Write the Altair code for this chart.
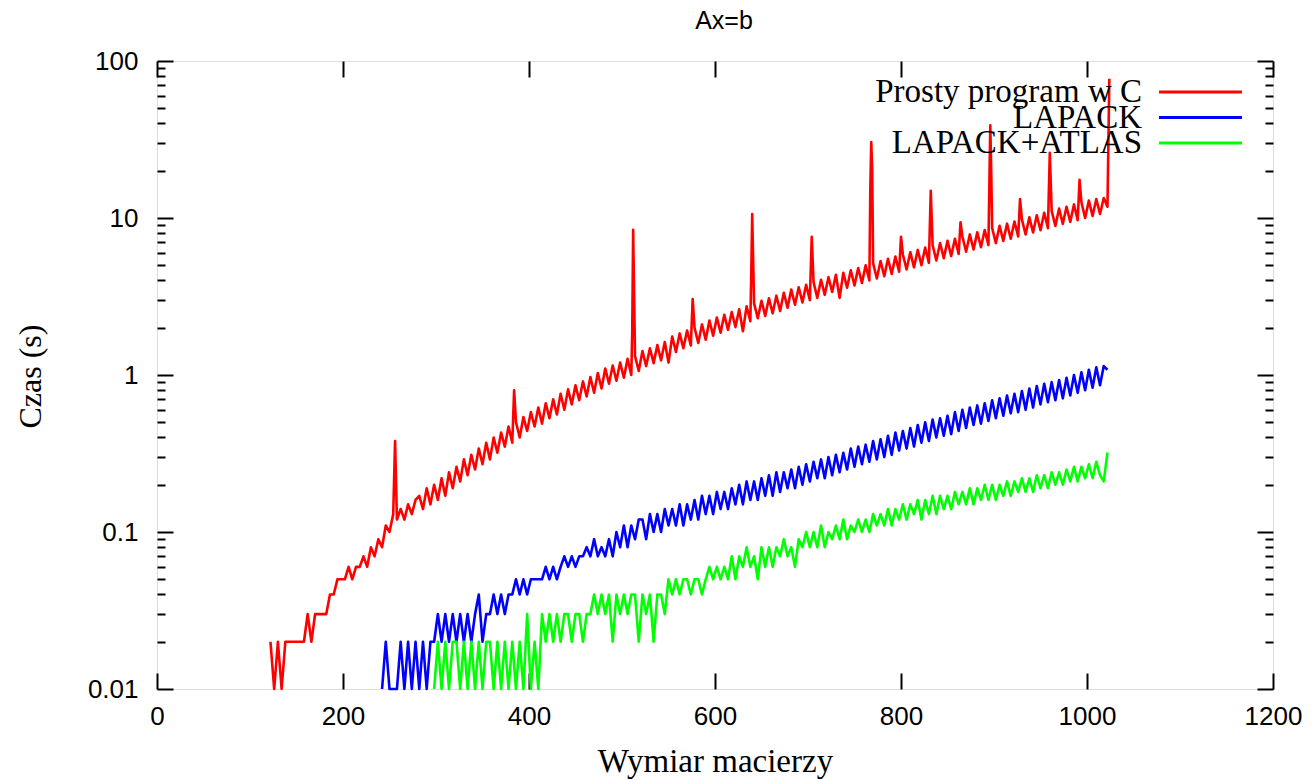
import altair as alt
import pandas as pd

SERIES = ["Prosty program w C", "LAPACK", "LAPACK+ATLAS"]
COLORS = ["#ff0000", "#0000ff", "#00ff00"]
TITLE = "Ax=b"
STEP = 4

RED_START = 122
RED = [
    0.02, 0.01, 0.02, 0.01, 0.02, 0.02, 0.02, 0.02, 0.02, 0.02,
    0.03, 0.02, 0.03, 0.03, 0.03, 0.03, 0.04, 0.04, 0.05, 0.05,
    0.05, 0.06, 0.05, 0.06, 0.06, 0.07, 0.06, 0.08, 0.07, 0.09,
    0.08, 0.11, 0.10, 0.13, 0.12, 0.14, 0.12, 0.15, 0.13, 0.16,
    0.17, 0.14, 0.19, 0.15, 0.20, 0.16, 0.22, 0.17, 0.24, 0.19,
    0.26, 0.21, 0.29, 0.23, 0.31, 0.25, 0.34, 0.27, 0.37, 0.29,
    0.40, 0.32, 0.43, 0.35, 0.47, 0.37, 0.50, 0.40, 0.54, 0.44,
    0.58, 0.47, 0.62, 0.49, 0.66, 0.53, 0.70, 0.56, 0.76, 0.60,
    0.81, 0.65, 0.86, 0.69, 0.91, 0.73, 0.97, 0.77, 1.03, 0.82,
    1.10, 0.88, 1.15, 0.92, 1.20, 0.96, 1.27, 1.00, 1.32, 1.06,
    1.42, 1.14, 1.48, 1.19, 1.55, 1.24, 1.62, 1.20, 1.76, 1.40,
    1.84, 1.48, 1.92, 1.54, 2.00, 1.60, 2.10, 1.68, 2.22, 1.78,
    2.32, 1.86, 2.42, 1.94, 2.52, 2.02, 2.62, 1.90, 2.74, 2.20,
    2.86, 2.30, 2.97, 2.38, 3.08, 2.47, 3.20, 2.56, 3.34, 2.68,
    3.50, 2.80, 3.62, 2.90, 3.75, 3.00, 3.90, 3.10, 4.04, 3.24,
    4.20, 3.38, 4.35, 3.10, 4.48, 3.60, 4.64, 3.72, 4.80, 3.86,
    5.00, 4.00, 5.16, 4.12, 5.32, 4.26, 5.50, 4.40, 5.68, 4.55,
    5.86, 4.70, 6.06, 4.85, 6.26, 5.00, 6.48, 5.18, 6.70, 5.36,
    6.92, 5.55, 7.15, 5.72, 7.38, 5.90, 7.62, 6.10, 7.86, 6.30,
    8.12, 6.52, 8.38, 6.72, 8.64, 6.92, 8.92, 7.15, 9.20, 7.38,
    9.50, 7.62, 9.80, 7.85, 10.1, 8.10, 10.4, 8.35, 10.8, 8.62,
    11.1, 8.90, 11.5, 9.18, 11.8, 9.45, 12.2, 9.70, 12.6, 10.0,
    12.9, 10.3, 13.2, 10.6, 13.4, 11.8,
]
RED_SPIKE_X = [256, 384, 511, 512, 576, 639, 640, 704, 767, 768, 769,
               800, 832, 864, 896, 897, 928, 960, 992, 1024]
RED_SPIKE_Y = [0.38, 0.80, 1.9, 8.4, 3.05, 4.5, 10.6, 7.6, 15.3, 30.5, 20.5,
               7.6, 14.9, 9.4, 39.0, 20.0, 13.2, 26.0, 17.5, 77.0]

BLUE_START = 242
BLUE = [
    0.01, 0.02, 0.01, 0.01, 0.01, 0.02, 0.01, 0.02, 0.01, 0.02,
    0.01, 0.02, 0.01, 0.02, 0.02, 0.03, 0.02, 0.03, 0.02, 0.03,
    0.02, 0.03, 0.02, 0.03, 0.02, 0.03, 0.04, 0.02, 0.03, 0.03,
    0.04, 0.03, 0.04, 0.03, 0.04, 0.04, 0.05, 0.04, 0.05, 0.04,
    0.05, 0.05, 0.05, 0.05, 0.06, 0.05, 0.06, 0.05, 0.06, 0.07,
    0.06, 0.07, 0.06, 0.07, 0.07, 0.08, 0.07, 0.09, 0.07, 0.08,
    0.07, 0.09, 0.07, 0.10, 0.08, 0.11, 0.08, 0.11, 0.09, 0.12,
    0.12, 0.09, 0.13, 0.10, 0.13, 0.10, 0.14, 0.11, 0.14, 0.11,
    0.15, 0.11, 0.15, 0.12, 0.16, 0.12, 0.17, 0.13, 0.17, 0.13,
    0.18, 0.14, 0.18, 0.14, 0.19, 0.15, 0.20, 0.15, 0.21, 0.16,
    0.21, 0.16, 0.22, 0.17, 0.23, 0.17, 0.24, 0.18, 0.24, 0.19,
    0.25, 0.19, 0.26, 0.20, 0.27, 0.21, 0.28, 0.22, 0.29, 0.22,
    0.30, 0.23, 0.31, 0.24, 0.32, 0.25, 0.34, 0.26, 0.35, 0.27,
    0.36, 0.28, 0.38, 0.29, 0.39, 0.30, 0.41, 0.31, 0.43, 0.33,
    0.44, 0.34, 0.46, 0.35, 0.48, 0.37, 0.50, 0.38, 0.52, 0.40,
    0.53, 0.41, 0.55, 0.42, 0.58, 0.44, 0.60, 0.46, 0.62, 0.48,
    0.64, 0.49, 0.66, 0.51, 0.69, 0.53, 0.71, 0.55, 0.74, 0.57,
    0.76, 0.58, 0.79, 0.60, 0.82, 0.62, 0.85, 0.65, 0.88, 0.67,
    0.90, 0.69, 0.93, 0.71, 0.96, 0.74, 1.00, 0.77, 1.04, 0.80,
    1.08, 0.83, 1.12, 0.86, 1.14, 1.08,
]

GREEN_START = 298
GREEN = [
    0.01, 0.02, 0.01, 0.02, 0.01, 0.02, 0.02, 0.01, 0.02, 0.01,
    0.02, 0.01, 0.02, 0.01, 0.02, 0.02, 0.01, 0.02, 0.01, 0.02,
    0.01, 0.02, 0.01, 0.02, 0.01, 0.03, 0.01, 0.02, 0.01, 0.03,
    0.02, 0.03, 0.02, 0.03, 0.02, 0.03, 0.03, 0.02, 0.03, 0.03,
    0.02, 0.03, 0.03, 0.04, 0.03, 0.04, 0.03, 0.04, 0.02, 0.04,
    0.03, 0.04, 0.03, 0.04, 0.04, 0.02, 0.04, 0.03, 0.04, 0.02,
    0.04, 0.04, 0.03, 0.05, 0.04, 0.05, 0.04, 0.05, 0.05, 0.04,
    0.05, 0.05, 0.04, 0.05, 0.06, 0.05, 0.06, 0.05, 0.06, 0.05,
    0.07, 0.05, 0.07, 0.06, 0.08, 0.06, 0.07, 0.05, 0.08, 0.06,
    0.08, 0.06, 0.08, 0.07, 0.09, 0.07, 0.08, 0.06, 0.09, 0.08,
    0.10, 0.08, 0.10, 0.08, 0.11, 0.08, 0.10, 0.09, 0.11, 0.09,
    0.12, 0.09, 0.11, 0.10, 0.12, 0.10, 0.12, 0.10, 0.13, 0.11,
    0.13, 0.11, 0.14, 0.11, 0.14, 0.12, 0.15, 0.12, 0.15, 0.13,
    0.16, 0.12, 0.16, 0.13, 0.17, 0.13, 0.17, 0.14, 0.17, 0.14,
    0.18, 0.15, 0.18, 0.15, 0.19, 0.15, 0.19, 0.16, 0.20, 0.16,
    0.20, 0.16, 0.20, 0.17, 0.21, 0.17, 0.21, 0.18, 0.22, 0.18,
    0.22, 0.18, 0.23, 0.19, 0.23, 0.19, 0.24, 0.20, 0.24, 0.20,
    0.25, 0.21, 0.26, 0.21, 0.26, 0.22, 0.27, 0.22, 0.28, 0.23,
    0.21, 0.32,
]

X_TICKS = [0, 200, 400, 600, 800, 1000, 1200]
Y_MAJOR = [0.01, 0.1, 1, 10, 100]
Y_MINOR = [0.02, 0.03, 0.04, 0.05, 0.06, 0.07, 0.08, 0.09,
           0.2, 0.3, 0.4, 0.5, 0.6, 0.7, 0.8, 0.9,
           2, 3, 4, 5, 6, 7, 8, 9,
           20, 30, 40, 50, 60, 70, 80, 90]

rows = []
for i, v in enumerate(RED):
    rows.append({"x": RED_START + STEP * i, "t": v, "s": SERIES[0]})
for xv, v in zip(RED_SPIKE_X, RED_SPIKE_Y):
    rows.append({"x": xv, "t": v, "s": SERIES[0]})
for i, v in enumerate(BLUE):
    rows.append({"x": BLUE_START + STEP * i, "t": v, "s": SERIES[1]})
for i, v in enumerate(GREEN):
    rows.append({"x": GREEN_START + STEP * i, "t": v, "s": SERIES[2]})
df = pd.DataFrame(rows).sort_values(["s", "x"]).reset_index(drop=True)

W, H = 1116, 628
FS = "Liberation Sans"
FR = "Liberation Serif"

xsc = alt.Scale(domain=[0, 1200], nice=False, zero=False)
ysc = alt.Scale(type="log", domain=[0.01, 100], nice=False)
csc = alt.Scale(domain=SERIES, range=COLORS)

major_test = "datum.value==0.01||datum.value==0.1||datum.value==1||datum.value==10||datum.value==100"
tick_size = {"condition": {"test": major_test, "value": 16}, "value": 8}

base = alt.Chart(df)

lines = base.mark_line(strokeWidth=2.6, strokeJoin="round").encode(
    x=alt.X("x:Q", scale=xsc, axis=alt.Axis(
        orient="bottom", values=X_TICKS, format="d", ticks=False, tickSize=0, domain=False,
        grid=False, labelFont=FS, labelFontSize=26, labelPadding=14, labelFlush=False,
        labelOverlap=False, labelColor="#000", title="Wymiar macierzy", titleFont=FR,
        titleFontSize=33, titleFontWeight="normal", titleColor="#000", titleX=W / 2,
        titleY=82, titleBaseline="alphabetic", titleAlign="center")),
    y=alt.Y("t:Q", scale=ysc, axis=alt.Axis(
        orient="left", values=Y_MAJOR, format=".2~f", ticks=False, tickSize=0, domain=False,
        grid=False, labelFont=FS, labelFontSize=26, labelPadding=19, labelFlush=False,
        labelOverlap=False, labelBaseline="middle", labelColor="#000", title="Czas (s)",
        titleFont=FR, titleFontSize=32, titleFontWeight="normal", titleColor="#000",
        titleX=-127, titleY=H / 2 + 1, titleBaseline="middle", titleAlign="center",
        titleAngle=270)),
    color=alt.Color("s:N", scale=csc, legend=None),
)

ticks_a = base.mark_line(opacity=0).encode(
    x=alt.X("x:Q", scale=xsc, axis=alt.Axis(
        orient="top", offset=-H, values=X_TICKS, labels=False, domain=False, grid=False,
        ticks=True, tickSize=16, tickWidth=2, tickColor="#000", title=None)),
    y=alt.Y("t:Q", scale=ysc, axis=alt.Axis(
        orient="right", offset=-W, values=Y_MAJOR + Y_MINOR, labels=False, domain=False,
        grid=False, ticks=True, tickSize=tick_size, tickWidth=2, tickColor="#000", title=None)),
    detail="s:N",
)

ticks_b = base.mark_line(opacity=0).encode(
    x=alt.X("x:Q", scale=xsc, axis=alt.Axis(
        orient="bottom", offset=-H, values=X_TICKS, labels=False, domain=False, grid=False,
        ticks=True, tickSize=16, tickWidth=2, tickColor="#000", title=None)),
    y=alt.Y("t:Q", scale=ysc, axis=alt.Axis(
        orient="left", offset=-W, values=Y_MAJOR + Y_MINOR, labels=False, domain=False,
        grid=False, ticks=True, tickSize=tick_size, tickWidth=2, tickColor="#000", title=None)),
    detail="s:N",
)

leg_df = pd.DataFrame({"s": SERIES, "k": [0, 1, 2]})
lsc = alt.Scale(domain=[0, 2], range=[31, 82])
leg_text = alt.Chart(leg_df).mark_text(
    align="right", baseline="middle", font=FR, fontSize=33, color="#000"
).encode(
    x=alt.value(985),
    y=alt.Y("k:Q", scale=lsc, axis=None),
    text="s:N",
)
leg_rule = alt.Chart(leg_df).mark_rule(strokeWidth=3).encode(
    x=alt.value(1002),
    x2=alt.value(1085),
    y=alt.Y("k:Q", scale=lsc, axis=None),
    color=alt.Color("s:N", scale=csc, legend=None),
)
title_text = alt.Chart(pd.DataFrame({"title": [TITLE]})).mark_text(
    align="center", baseline="alphabetic", font=FS, fontSize=25, color="#000"
).encode(
    x=alt.value(W / 2 + 9),
    y=alt.value(-32),
    text="title:N",
)
legend = alt.layer(leg_text, leg_rule, title_text)

chart = alt.layer(lines, ticks_a, ticks_b, legend).resolve_scale(
    x="independent", y="independent"
).properties(
    width=W,
    height=H,
    padding={"left": 149, "top": 53, "right": 30, "bottom": 91},
    autosize=alt.AutoSizeParams(type="none"),
).configure_view(
    stroke="#000", strokeWidth=2
).configure_axis(
    zindex=1
).configure(background="white")

chart.save("out.html", embed_options={"renderer": "svg", "actions": False})
